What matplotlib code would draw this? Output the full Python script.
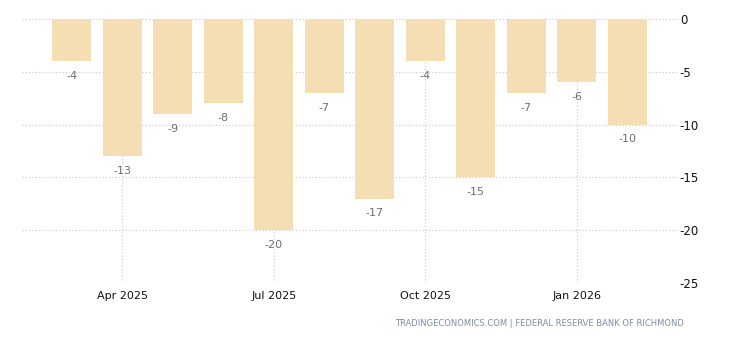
import numpy as np
import matplotlib
matplotlib.use("Agg")
import matplotlib.pyplot as plt

# monthly index values, Mar 2025 .. Feb 2026
months = ["Mar 2025", "Apr 2025", "May 2025", "Jun 2025", "Jul 2025", "Aug 2025",
          "Sep 2025", "Oct 2025", "Nov 2025", "Dec 2025", "Jan 2026", "Feb 2026"]
values = [-4, -13, -9, -8, -20, -7, -17, -4, -15, -7, -6, -10]
tick_months = ["Apr 2025", "Jul 2025", "Oct 2025", "Jan 2026"]
y_ticks = [0, -5, -10, -15, -20, -25]

BAR_COLOR = "#f5deb3"
GRID_COLOR = "#c8c8c8"

fig = plt.figure(figsize=(7.3, 3.4), dpi=100)
ax = fig.add_axes([22 / 730, 1 - 283 / 340, 655 / 730, 264 / 340])

x = np.arange(len(months))
ax.bar(x, values, width=0.77, color=BAR_COLOR, zorder=2)

for xi, v in zip(x, values):
    ax.annotate(str(v), (xi, v), xytext=(0, -10.5), textcoords="offset points",
                ha="center", va="center", fontsize=8, color="#6e6e6e", zorder=3)

ax.set_xlim(-0.98, 11.98)
ax.set_ylim(-25, 0)

tick_pos = [months.index(m) for m in tick_months]
ax.set_xticks(tick_pos)
ax.set_xticklabels(tick_months, fontsize=8, color="#111111")
ax.set_yticks(y_ticks)
ax.set_yticklabels([str(t) for t in y_ticks], fontsize=8.5, color="#111111")
ax.yaxis.tick_right()

ax.grid(True, axis="both", linestyle=(0, (1, 2)), color=GRID_COLOR, linewidth=0.8, zorder=0)
ax.tick_params(axis="both", length=0, pad=2)
ax.tick_params(axis="x", pad=6)
for s in ax.spines.values():
    s.set_visible(False)

fig.text(684 / 730, 1 - 324 / 340, "TRADINGECONOMICS.COM | FEDERAL RESERVE BANK OF RICHMOND",
         ha="right", va="center", fontsize=6, color="#7f8ba3")

fig.savefig("out.png", dpi=100)
